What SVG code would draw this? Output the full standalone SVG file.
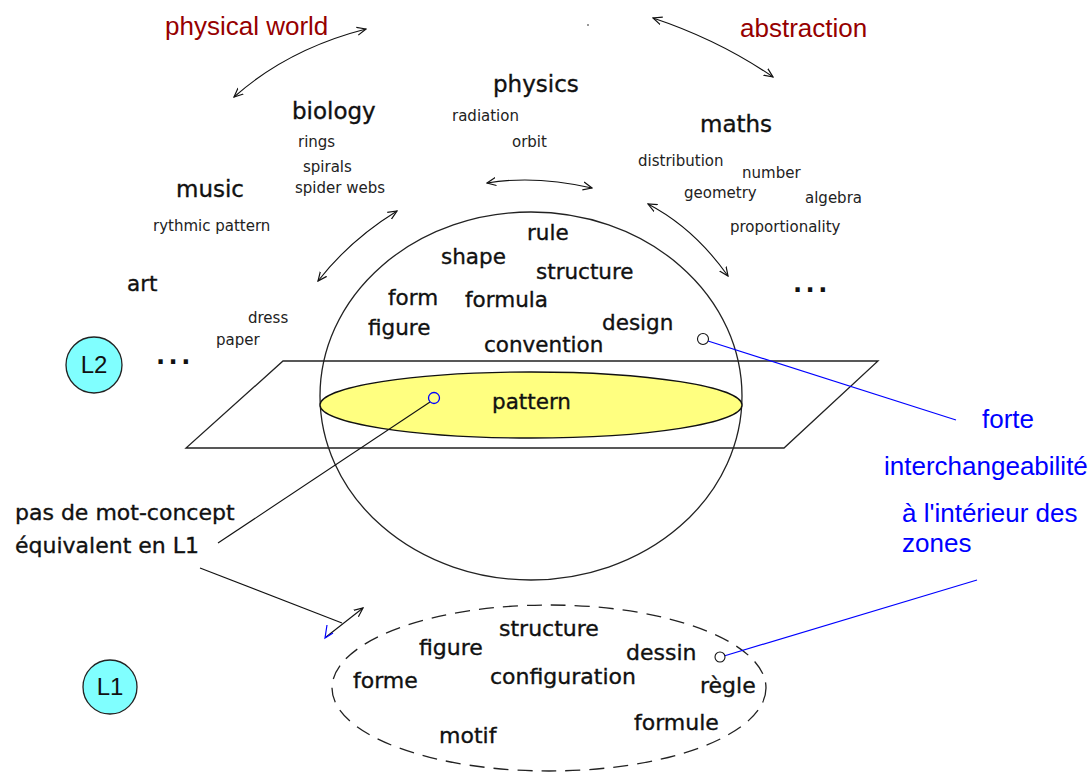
<svg xmlns="http://www.w3.org/2000/svg" width="1088" height="773" viewBox="0 0 1088 773">
<defs>
<style>
.big{font-family:"DejaVu Sans",Verdana,sans-serif;font-size:21.5px;fill:#111;stroke:#111;stroke-width:0.35}
.top{font-family:"DejaVu Sans",Verdana,sans-serif;font-size:23px;fill:#111;stroke:#111;stroke-width:0.35}
.sm{font-family:"DejaVu Sans",Verdana,sans-serif;font-size:15px;fill:#222}
.l1w{font-family:"DejaVu Sans",Verdana,sans-serif;font-size:22px;fill:#111;stroke:#111;stroke-width:0.35}
.red{font-family:"Liberation Sans",Arial,sans-serif;font-size:26px;fill:#960000}
.blue{font-family:"Liberation Sans",Arial,sans-serif;font-size:26px;fill:#0000ff}
.lab{font-family:"Liberation Sans",Arial,sans-serif;font-size:24px;fill:#111}
.dots{font-family:"DejaVu Sans",Verdana,sans-serif;font-size:24px;font-weight:bold;fill:#111;letter-spacing:3.5px}
.arc{fill:none;stroke:#111;stroke-width:1.1}
.ln{fill:none;stroke:#111;stroke-width:1.1}
.bl{fill:none;stroke:#0000ff;stroke-width:1.2}
.shape{fill:none;stroke:#222;stroke-width:1.3}
.lang{fill:#80ffff;stroke:#222;stroke-width:1.3}
</style>
<marker id="ah" viewBox="0 0 10 10" refX="9" refY="5" markerWidth="10" markerHeight="10" markerUnits="userSpaceOnUse" orient="auto-start-reverse">
<path d="M0,1 L9,5 L0,9" fill="none" stroke="#111" stroke-width="1.2"/>
</marker>
</defs>
<rect width="1088" height="773" fill="#fff"/>

<g id="plane"><polygon class="shape" points="283,361 878,361 784,448 186,448"/></g>
<g id="sphere"><ellipse class="shape" cx="531" cy="396" rx="211" ry="184"/></g>
<g id="pattern-zone"><ellipse cx="531" cy="405" rx="211" ry="33" fill="#ffff80" stroke="#111" stroke-width="1.3"/></g>
<g id="l1-zone"><ellipse cx="549" cy="688" rx="217" ry="83" fill="none" stroke="#222" stroke-width="1.3" stroke-dasharray="15 9"/></g>

<g id="connectors">
<path class="arc" d="M234,97 Q288,49 366,29" marker-start="url(#ah)" marker-end="url(#ah)"/>
<path class="arc" d="M653,18 Q719,40 773,77" marker-start="url(#ah)" marker-end="url(#ah)"/>
<path class="arc" d="M487,183 Q535,175 592,188" marker-start="url(#ah)" marker-end="url(#ah)"/>
<path class="arc" d="M318,281 Q350,240 397,211" marker-start="url(#ah)" marker-end="url(#ah)"/>
<path class="arc" d="M648,204 Q694,228 728,276" marker-start="url(#ah)" marker-end="url(#ah)"/>
<path class="ln" d="M326,637 L363,608" marker-end="url(#ah)"/>
<path class="bl" d="M327,625 L325,638 L333,633"/>
<path class="ln" d="M200,568 L342,623"/>
<path class="ln" d="M218,543 L430,402"/>
<path class="bl" d="M708,341 L956,420"/>
<path class="bl" d="M724,656 L977,580"/>
<circle cx="703" cy="339" r="5.5" fill="#fff" stroke="#111" stroke-width="1.1"/>
<circle cx="720" cy="657" r="5" fill="#fff" stroke="#111" stroke-width="1.1"/>
<circle cx="434" cy="398" r="5.5" fill="none" stroke="#0000ff" stroke-width="1.3"/>
<rect x="587" y="24" width="2" height="2" fill="#999"/>
</g>

<g id="physical-world"><text class="red" x="165" y="35">physical world</text></g>
<g id="abstraction"><text class="red" x="740" y="37">abstraction</text></g>

<g id="physics"><text class="top" x="493" y="92">physics</text>
<text class="sm" x="452" y="121">radiation</text>
<text class="sm" x="512" y="147">orbit</text></g>
<g id="biology"><text class="top" x="292" y="119">biology</text>
<text class="sm" x="298" y="147">rings</text>
<text class="sm" x="303" y="172">spirals</text>
<text class="sm" x="295" y="193">spider webs</text></g>
<g id="music"><text class="top" x="176" y="197">music</text>
<text class="sm" x="153" y="231">rythmic pattern</text></g>
<g id="maths"><text class="top" x="700" y="132">maths</text>
<text class="sm" x="638" y="166">distribution</text>
<text class="sm" x="742" y="178">number</text>
<text class="sm" x="684" y="198">geometry</text>
<text class="sm" x="805" y="203">algebra</text>
<text class="sm" x="730" y="232">proportionality</text></g>
<g id="art"><text class="big" x="127" y="291">art</text>
<text class="sm" x="248" y="323">dress</text>
<text class="sm" x="216" y="345">paper</text></g>
<g id="dots-right"><text class="dots" x="793" y="292">...</text></g>
<g id="dots-left"><text class="dots" x="156" y="364">...</text></g>

<g id="l2-words">
<text class="big" x="527" y="240">rule</text>
<text class="big" x="441" y="264">shape</text>
<text class="big" x="536" y="279">structure</text>
<text class="big" x="388" y="305">form</text>
<text class="big" x="465" y="307">formula</text>
<text class="big" x="368" y="335">figure</text>
<text class="big" x="602" y="330">design</text>
<text class="big" x="484" y="352">convention</text>
<text class="big" x="492" y="409">pattern</text>
</g>

<g id="l1-words">
<text class="l1w" x="499" y="636">structure</text>
<text class="l1w" x="419" y="655">figure</text>
<text class="l1w" x="626" y="660">dessin</text>
<text class="l1w" x="353" y="688">forme</text>
<text class="l1w" x="490" y="684">configuration</text>
<text class="l1w" x="700" y="693">règle</text>
<text class="l1w" x="634" y="730">formule</text>
<text class="l1w" x="439" y="743">motif</text>
</g>

<g id="L2"><circle class="lang" cx="94" cy="365" r="28"/><text class="lab" x="94" y="373" text-anchor="middle">L2</text></g>
<g id="L1"><circle class="lang" cx="110" cy="687" r="27"/><text class="lab" x="110" y="695" text-anchor="middle">L1</text></g>

<g id="no-equivalent"><text class="l1w" x="15" y="520">pas de mot-concept</text>
<text class="l1w" x="15" y="553">équivalent en L1</text></g>

<g id="interchange">
<text class="blue" x="982" y="428">forte</text>
<text class="blue" x="884" y="475">interchangeabilité</text>
<text class="blue" x="902" y="522">à l'intérieur des</text>
<text class="blue" x="902" y="552">zones</text>
</g>
</svg>
